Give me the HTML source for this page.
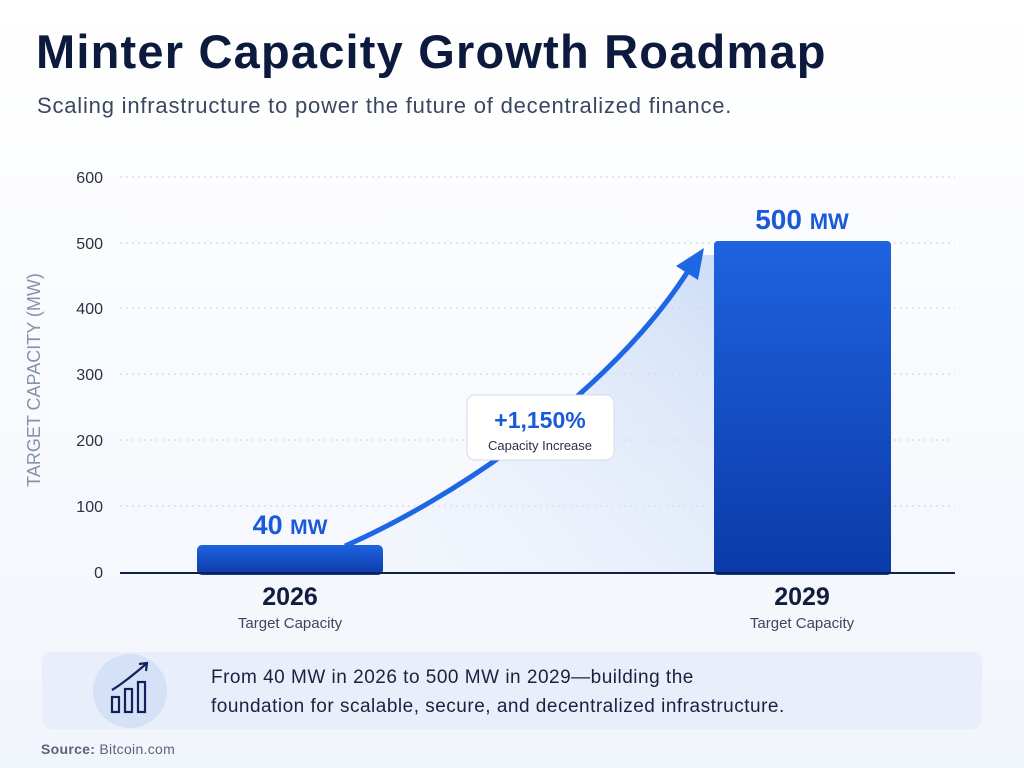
<!DOCTYPE html>
<html><head><meta charset="utf-8"><style>
body{margin:0;width:1024px;height:768px;overflow:hidden;background:linear-gradient(180deg,#ffffff 0%,#f7f9fd 60%,#f1f5fc 100%);font-family:"Liberation Sans",sans-serif;position:relative}
.t{position:absolute;white-space:nowrap}
</style></head><body>
<div class="t" style="left:36px;top:24px;font-size:47px;font-weight:bold;color:#0c1a3d;letter-spacing:1.2px">Minter Capacity Growth Roadmap</div>
<div class="t" style="left:37px;top:93px;font-size:22px;color:#3b4660;letter-spacing:0.8px">Scaling infrastructure to power the future of decentralized finance.</div>
<svg width="1024" height="768" style="position:absolute;left:0;top:0">
<defs>
<linearGradient id="b" x1="0" y1="0" x2="0" y2="1"><stop offset="0" stop-color="#1e63e0"/><stop offset="1" stop-color="#0b3aa8"/></linearGradient>
<linearGradient id="a" x1="0" y1="1" x2="1" y2="0"><stop offset="0" stop-color="#e6eefb" stop-opacity="0.1"/><stop offset="1" stop-color="#c6d8f6" stop-opacity="0.85"/></linearGradient>
</defs>
<g stroke="#c9cfdb" stroke-dasharray="2 4" stroke-width="1">
<line x1="120" y1="177" x2="955" y2="177"/><line x1="120" y1="243" x2="955" y2="243"/><line x1="120" y1="308" x2="955" y2="308"/><line x1="120" y1="374" x2="955" y2="374"/><line x1="120" y1="440" x2="955" y2="440"/><line x1="120" y1="506" x2="955" y2="506"/>
</g>
<g font-size="16" fill="#2a3142" text-anchor="end">
<text x="103" y="183">600</text><text x="103" y="249">500</text><text x="103" y="314">400</text><text x="103" y="380">300</text><text x="103" y="446">200</text><text x="103" y="512">100</text><text x="103" y="578">0</text>
</g>
<text transform="translate(40,380) rotate(-90)" text-anchor="middle" font-size="18" fill="#8892a6">TARGET CAPACITY (MW)</text>
<path d="M345,546 C450,500 600,400 700,255 L714,255 L714,572 L345,572 Z" fill="url(#a)"/>
<path d="M345,546 C450,500 610,395 690,268" fill="none" stroke="#1f66e5" stroke-width="5"/>
<polygon points="704,248 698,280 676,266" fill="#1f66e5"/>
<rect x="197" y="545" width="186" height="30" rx="5" fill="url(#b)"/>
<rect x="714" y="241" width="177" height="334" rx="4" fill="url(#b)"/>
<line x1="120" y1="573" x2="955" y2="573" stroke="#14204a" stroke-width="2"/>
<text x="290" y="534" text-anchor="middle" font-size="27" font-weight="bold" fill="#1a5ad8">40 <tspan font-size="21">MW</tspan></text>
<text x="802" y="229" text-anchor="middle" font-size="28" font-weight="bold" fill="#1a5ad8">500 <tspan font-size="22">MW</tspan></text>
<rect x="467" y="395" width="147" height="65" rx="8" fill="#fff" stroke="#d3dbe8"/>
<text x="540" y="428" text-anchor="middle" font-size="23" font-weight="bold" fill="#1a5ad8">+1,150%</text>
<text x="540" y="450" text-anchor="middle" font-size="13" fill="#2a3142">Capacity Increase</text>
<text x="290" y="605" text-anchor="middle" font-size="25" font-weight="bold" fill="#121c3c">2026</text>
<text x="290" y="628" text-anchor="middle" font-size="15" fill="#3b4660">Target Capacity</text>
<text x="802" y="605" text-anchor="middle" font-size="25" font-weight="bold" fill="#121c3c">2029</text>
<text x="802" y="628" text-anchor="middle" font-size="15" fill="#3b4660">Target Capacity</text>
<rect x="42" y="652" width="940" height="77" rx="10" fill="#e9effa"/>
<ellipse cx="130" cy="691" rx="37" ry="37" fill="#d4e1f7"/>
<g fill="none" stroke="#13205a" stroke-width="2.2">
<rect x="112" y="697" width="7" height="15"/><rect x="125" y="689" width="7" height="23"/><rect x="138" y="682" width="7" height="30"/>
<path d="M112,690 C122,684 132,676 146,664"/><path d="M139,664 L147,663 L146,671"/>
</g>
<text x="211" y="683" font-size="19" fill="#1a2240" letter-spacing="0.5">From 40 MW in 2026 to 500 MW in 2029—building the</text>
<text x="211" y="712" font-size="19" fill="#1a2240" letter-spacing="0.5">foundation for scalable, secure, and decentralized infrastructure.</text>
<text x="41" y="754" font-size="14" fill="#5a6378" letter-spacing="0.3"><tspan font-weight="bold">Source:</tspan> Bitcoin.com</text>
</svg>
</body></html>
